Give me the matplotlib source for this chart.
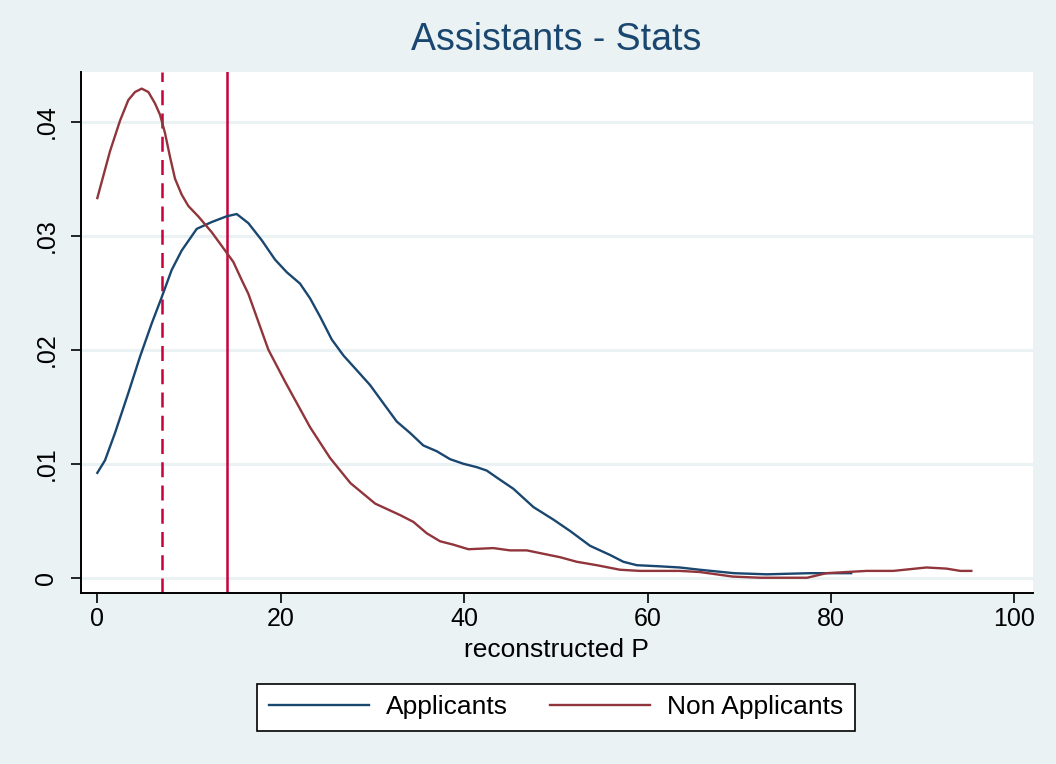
import matplotlib
matplotlib.use("Agg")
import matplotlib.pyplot as plt

plt.rcParams['font.family'] = ['Liberation Sans', 'DejaVu Sans']

# kernel density estimates of reconstructed P
app_x = [0, 0.84, 1.93, 3.38, 4.66, 5.93, 7.02, 8.11, 9.2, 10.84, 12.48, 14.1,
         15.2, 16.47, 17.93, 19.38, 20.65, 22.1, 23.2, 24.29, 25.56, 26.83,
         28.29, 29.74, 31.19, 32.65, 34.1, 35.55, 37.0, 38.46, 39.9, 41.37,
         42.46, 43.9, 45.37, 47.55, 49.73, 51.55, 53.73, 55.9, 57.36, 58.82,
         61.36, 63.5, 65.7, 69.4, 73.0, 77.7, 82.2]
app_y = [0.0092, 0.0103, 0.0127, 0.0162, 0.0194, 0.0223, 0.0246, 0.0270, 0.0287,
         0.0306, 0.0312, 0.0317, 0.0319, 0.0311, 0.0296, 0.0279, 0.0268, 0.0258,
         0.0245, 0.0229, 0.0209, 0.0195, 0.0182, 0.0169, 0.0153, 0.0137, 0.0127,
         0.0116, 0.0111, 0.0104, 0.0100, 0.0097, 0.0094, 0.0086, 0.0078, 0.0062,
         0.0051, 0.0041, 0.0028, 0.0020, 0.0014, 0.0011, 0.0010, 0.0009, 0.0007,
         0.0004, 0.0003, 0.0004, 0.0004]

non_x = [0, 1.38, 2.48, 3.38, 4.11, 4.84, 5.57, 6.29, 6.84, 7.38, 7.93, 8.47,
         9.2, 9.93, 11.0, 12.48, 13.93, 14.83, 15.75, 16.47, 18.65, 20.47, 23.2,
         25.38, 27.6, 30.3, 33.0, 34.46, 35.92, 37.37, 38.82, 40.46, 43.18, 45.0,
         46.83, 48.64, 50.46, 52.28, 54.46, 57.0, 59.18, 61.36, 63.5, 65.7, 67.5,
         69.3, 72.3, 77.4, 79.5, 83.9, 86.8, 90.4, 92.6, 94.1, 95.3]
non_y = [0.0333, 0.0374, 0.0401, 0.0419, 0.0426, 0.0429, 0.0426, 0.0416, 0.0406,
         0.0390, 0.0369, 0.0350, 0.0336, 0.0326, 0.0317, 0.0303, 0.0287, 0.0277,
         0.0261, 0.0249, 0.0200, 0.0172, 0.0132, 0.0105, 0.0083, 0.0065, 0.0055,
         0.0049, 0.0039, 0.0032, 0.0029, 0.0025, 0.0026, 0.0024, 0.0024, 0.0021,
         0.0018, 0.0014, 0.0011, 0.0007, 0.0006, 0.0006, 0.0006, 0.0005, 0.0003,
         0.0001, 0.0000, 0.0000, 0.0004, 0.0006, 0.0006, 0.0009, 0.0008, 0.0006,
         0.0006]

median_non = 7.0
median_app = 14.1

xticks = [0, 20, 40, 60, 80, 100]
yticks = [0, 0.01, 0.02, 0.03, 0.04]
ytick_labels = ['0', '.01', '.02', '.03', '.04']

bg = '#EAF2F3'
navy = '#1A476F'
maroon = '#90353B'
red = '#C8003C'

fig = plt.figure(figsize=(10.56, 7.64), dpi=100, facecolor=bg)
ax = fig.add_axes([0.0767, 0.2238, 0.9013, 0.682])
ax.set_facecolor('white')

for y in yticks:
    ax.axhline(y, color=bg, lw=2.2, zorder=0)

ax.axvline(median_non, color=red, lw=1.8, dashes=(6, 3.3), zorder=1)
ax.axvline(median_app, color=red, lw=1.8, zorder=1)

ax.plot(app_x, app_y, color=navy, lw=1.7, label='Applicants', zorder=2,
        solid_joinstyle='round')
ax.plot(non_x, non_y, color=maroon, lw=1.7, label='Non Applicants', zorder=2,
        solid_joinstyle='round')

ax.set_xlim(-1.78, 102.0)
ax.set_ylim(-0.00134, 0.04436)

ax.set_xticks(xticks)
ax.set_xticklabels([str(t) for t in xticks])
ax.set_yticks(yticks)
ax.set_yticklabels(ytick_labels, rotation=90, va='center')
ax.tick_params(axis='both', direction='out', length=7.2, width=1.2, labelsize=18, color='black')
ax.tick_params(axis='x', pad=3)
ax.tick_params(axis='y', pad=9)

for s in ['top', 'right']:
    ax.spines[s].set_visible(False)
for s in ['left', 'bottom']:
    ax.spines[s].set_linewidth(1.4)

ax.set_xlabel('reconstructed P', fontsize=19, labelpad=5)

fig.text(0.527, 1 - 40 / 764, 'Assistants - Stats', fontsize=27, color=navy,
         ha='center', va='center')

leg = fig.legend(loc='center', bbox_to_anchor=(0.5265, 0.074), ncol=2,
                 fontsize=19, frameon=True, fancybox=False, handlelength=3.8,
                 handletextpad=0.63, columnspacing=1.58, borderpad=0.45)
leg.get_frame().set_edgecolor('black')
leg.get_frame().set_facecolor('white')
leg.get_frame().set_alpha(1)
leg.get_frame().set_linewidth(1.2)

fig.savefig('out.png', dpi=100, facecolor=bg)
